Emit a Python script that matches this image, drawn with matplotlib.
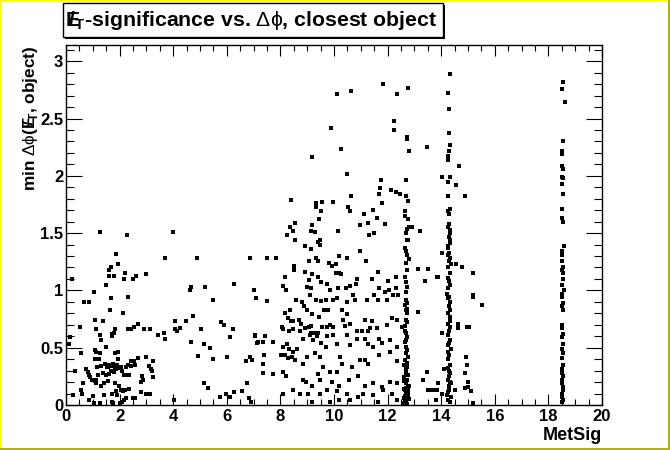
import numpy as np
import matplotlib
matplotlib.use("Agg")
import matplotlib.pyplot as plt
from matplotlib.patches import Rectangle
from matplotlib.ticker import MultipleLocator

plt.rcParams['font.family'] = ['Liberation Sans', 'DejaVu Sans']
plt.rcParams['mathtext.fontset'] = 'custom'
plt.rcParams['mathtext.rm'] = 'Liberation Sans'
plt.rcParams['mathtext.bf'] = 'Liberation Sans:bold'

# --- data: (MetSig, min dphi) ---
# low MetSig region (x < 7.2)
low_x = [1.27, 2.26, 3.98, 1.85, 3.69, 4.88, 6.85, 1.94, 1.59, 1.67, 2.20, 1.60, 1.78, 2.61, 2.99, 0.22, 2.15, 2.49,
         1.48, 6.27, 4.64, 4.66, 5.17, 1.03, 7.00, 0.67, 0.86, 1.67, 2.30, 5.47, 7.08, 1.63, 2.11, 4.73, 1.07, 1.37,
         4.06, 4.47, 5.80, 5.88, 0.51, 1.11, 1.82, 2.30, 2.41, 2.53, 2.67, 2.91, 3.12, 4.06, 4.13, 4.25, 5.02, 6.22,
         1.80, 1.73, 1.70, 1.27, 3.42, 3.64, 3.69, 0.15, 0.11, 6.12, 1.32, 7.04, 7.15, 4.65, 5.14, 5.36, 1.48, 1.07,
         1.11, 1.93, 1.83, 0.55, 1.26, 4.94, 6.00, 6.87, 6.93, 2.68, 2.97, 5.47, 6.72,
         1.07, 1.24, 1.46, 1.62, 1.77, 1.89, 1.95, 2.41, 2.54, 2.59, 2.44, 3.11, 3.26,
         1.15, 1.32, 1.52, 1.58, 1.72, 1.82, 2.04, 2.23, 2.30, 0.32,
         0.73, 0.81, 0.86, 0.91, 0.98, 1.11, 1.18,
         1.37, 1.48, 1.59, 1.67, 1.80, 1.87, 2.03, 2.10, 2.15, 2.28, 2.34, 3.16, 3.20, 3.23, 2.82,
         0.62, 1.07, 1.13, 1.31, 1.41, 1.57, 1.84, 1.99, 2.04, 2.14, 2.21, 2.35, 1.85, 0.55, 0.58, 0.99, 1.41, 1.70, 1.91,
         2.79, 2.86, 2.79, 2.97, 3.13, 2.50, 2.59, 2.24, 0.25,
         0.85, 1.06, 1.28, 1.70, 1.77, 2.01, 2.09, 2.16, 4.04,
         5.14, 5.28, 5.75, 5.96, 6.13, 6.27, 6.58, 6.75, 6.82, 6.89]
low_y = [1.51, 1.48, 1.51, 1.32, 1.28, 1.28, 1.28, 1.23, 1.18, 1.20, 1.15, 1.13, 1.13, 1.13, 1.14, 1.10, 1.10, 1.10,
         1.05, 1.06, 1.00, 1.03, 1.03, 0.99, 1.00, 0.90, 0.90, 0.93, 0.94, 0.92, 0.93, 0.83, 0.80, 0.78, 0.74, 0.73,
         0.73, 0.73, 0.72, 0.70, 0.68, 0.66, 0.66, 0.66, 0.66, 0.68, 0.71, 0.66, 0.66, 0.66, 0.65, 0.67, 0.66, 0.66,
         0.63, 0.62, 0.60, 0.61, 0.61, 0.63, 0.58, 0.59, 0.53, 0.59, 0.57, 0.60, 0.55, 0.55, 0.53, 0.50, 0.51, 0.48,
         0.46, 0.46, 0.45, 0.45, 0.45, 0.43, 0.42, 0.42, 0.39, 0.41, 0.42, 0.40, 0.38,
         0.40, 0.40, 0.36, 0.35, 0.36, 0.35, 0.40, 0.38, 0.38, 0.35, 0.34, 0.34, 0.38,
         0.33, 0.34, 0.33, 0.33, 0.34, 0.32, 0.33, 0.33, 0.35, 0.30,
         0.31, 0.29, 0.26, 0.24, 0.22, 0.22, 0.26,
         0.28, 0.26, 0.27, 0.30, 0.29, 0.31, 0.32, 0.30, 0.26, 0.26, 0.26, 0.31, 0.30, 0.24, 0.25,
         0.19, 0.21, 0.19, 0.17, 0.19, 0.21, 0.19, 0.17, 0.13, 0.12, 0.13, 0.14, 0.12, 0.13, 0.10, 0.08, 0.09, 0.10, 0.09,
         0.20, 0.22, 0.11, 0.10, 0.10, 0.06, 0.06, 0.06, 0.09,
         0.04, 0.02, 0.02, 0.03, 0.02, 0.02, 0.03, 0.04, 0.04,
         0.19, 0.15, 0.07, 0.10, 0.07, 0.11, 0.12, 0.19, 0.06, 0.03]

# middle region (7 < x < 15.5), outside the dense columns
mid_x = [11.83, 12.35, 10.11, 10.63, 12.76, 12.24, 12.24, 9.89, 12.71, 12.72, 10.25, 12.78, 13.47, 9.17, 10.47,
         11.74, 11.70, 11.68, 11.79, 12.13, 12.30, 12.45, 12.68, 12.76, 12.69, 14.03, 10.62, 8.38, 9.33, 9.32,
         9.55, 9.95, 10.51, 10.59, 9.51, 9.43, 11.12, 11.46, 11.59, 12.66, 12.66, 12.75, 8.54, 8.36, 8.48, 8.23,
         8.54, 9.17, 9.14, 9.29, 10.14, 10.96, 11.26, 11.31, 11.49, 11.89, 12.71, 12.81, 12.91, 13.20, 9.48, 12.76,
         8.92, 9.14, 9.48, 9.41, 7.49, 7.84, 9.07, 9.32, 9.41, 10.19, 10.47, 10.98, 11.21, 9.80, 9.94, 10.06,
         8.51, 8.52, 8.92, 9.17, 9.41, 10.06, 10.20, 10.25, 10.87, 10.82, 11.63, 11.42, 12.00, 12.30, 13.12, 13.52,
         13.38, 13.87, 8.16, 8.11, 8.20, 7.49,
         9.05, 8.98, 9.14, 9.51, 9.73, 9.85, 10.16, 10.43, 10.60,
         8.57, 8.79, 8.89, 9.10, 9.32, 9.50, 9.70, 9.97, 10.12,
         10.47, 10.72, 10.80, 11.22, 11.48, 11.65, 11.96, 12.21, 12.38, 11.69, 11.91, 12.06, 12.30,
         8.98, 9.18, 9.45, 9.63, 9.76, 10.30, 10.50,
         8.36, 8.30, 8.17, 8.40, 8.48, 8.68, 8.76, 8.06, 8.11, 8.33, 8.46, 8.73, 8.92, 9.05, 9.14, 9.15, 9.25, 9.41,
         9.54, 9.73, 9.85, 9.95,
         10.35, 10.42, 10.60, 10.85, 11.03, 11.16, 11.25, 11.34, 11.43, 11.59, 11.99, 12.15, 12.34, 12.53,
         7.05, 7.43, 7.36, 7.74, 7.11,
         8.11, 8.23, 8.33, 8.46, 8.61, 8.16, 8.43, 8.56,
         8.86, 9.10, 9.23, 9.35, 9.50, 9.73, 9.70, 9.97, 10.12,
         10.47, 10.60, 10.85, 11.16, 11.28, 11.47, 11.69, 11.78, 12.09, 12.34,
         7.39, 7.34, 8.01, 8.30, 8.86, 8.98, 9.29, 9.48, 9.60, 10.22, 10.29, 10.66, 10.97, 11.16, 11.25, 11.69,
         12.09, 12.34,
         7.36, 7.71, 8.11, 8.21, 8.86, 8.96, 9.17, 9.41, 9.48, 9.85, 9.91, 10.12, 10.20, 10.57, 10.91, 11.16,
         11.47, 11.78, 12.09, 12.34,
         8.11, 8.48, 8.73, 9.04, 9.17, 9.48, 9.73, 9.85, 10.10, 10.20, 10.47, 10.60, 10.91, 11.10, 11.47, 11.65,
         11.84, 12.15, 12.34,
         13.33, 13.46, 13.52, 13.71, 13.89, 14.02, 13.15,
         14.66, 14.55, 14.88, 14.02, 14.54, 14.78, 15.17, 13.83, 15.17, 15.17, 15.51, 14.63, 14.63, 14.97, 15.05,
         14.02, 14.93, 14.95, 14.88, 14.10, 14.99, 15.01, 15.10, 14.90, 13.62, 13.83, 13.80, 14.53, 15.17]
mid_y = [2.80, 2.71, 2.71, 2.74, 2.77, 2.48, 2.40, 2.42, 2.34, 2.32, 2.23, 2.22, 2.25, 2.16, 2.02,
         1.96, 1.89, 1.84, 1.76, 1.88, 1.86, 1.84, 1.82, 1.78, 1.96, 1.99, 1.82, 1.79, 1.76, 1.73,
         1.77, 1.77, 1.73, 1.69, 1.69, 1.62, 1.67, 1.70, 1.63, 1.69, 1.65, 1.62, 1.59, 1.55, 1.52, 1.48,
         1.44, 1.57, 1.52, 1.51, 1.52, 1.57, 1.59, 1.48, 1.50, 1.58, 1.54, 1.55, 1.55, 1.52, 1.44, 1.44,
         1.39, 1.36, 1.40, 1.42, 1.28, 1.28, 1.26, 1.28, 1.26, 1.30, 1.28, 1.34, 1.26, 1.24, 1.21, 1.23,
         1.21, 1.18, 1.16, 1.14, 1.12, 1.15, 1.15, 1.14, 1.10, 1.06, 1.16, 1.10, 1.08, 1.12, 1.19, 1.19,
         1.08, 1.12, 1.12, 1.04, 1.00, 0.91,
         1.09, 1.03, 1.02, 1.07, 1.06, 1.00, 1.02, 1.02, 1.04,
         0.92, 0.90, 0.86, 0.96, 0.92, 0.91, 0.92, 0.92, 0.93,
         0.90, 0.96, 0.92, 0.92, 0.96, 0.92, 0.92, 0.96, 0.96, 1.02, 0.99, 1.00, 1.02,
         0.83, 0.79, 0.77, 0.83, 0.83, 0.83, 0.79,
         0.83, 0.76, 0.80, 0.73, 0.73, 0.74, 0.71, 0.68, 0.66, 0.65, 0.66, 0.65, 0.67, 0.68, 0.69, 0.63, 0.63, 0.63,
         0.68, 0.68, 0.70, 0.68,
         0.74, 0.69, 0.71, 0.65, 0.65, 0.74, 0.65, 0.67, 0.73, 0.67, 0.70, 0.76, 0.74, 0.68,
         0.61, 0.60, 0.55, 0.55, 0.54,
         0.51, 0.53, 0.49, 0.46, 0.49, 0.44, 0.42, 0.39,
         0.58, 0.61, 0.57, 0.60, 0.54, 0.60, 0.51, 0.61, 0.53,
         0.61, 0.52, 0.58, 0.58, 0.53, 0.51, 0.58, 0.54, 0.57, 0.51,
         0.44, 0.36, 0.44, 0.41, 0.36, 0.42, 0.45, 0.42, 0.33, 0.42, 0.36, 0.33, 0.39, 0.39, 0.36, 0.44,
         0.46, 0.38,
         0.28, 0.27, 0.29, 0.25, 0.22, 0.20, 0.17, 0.27, 0.22, 0.29, 0.20, 0.29, 0.17, 0.22, 0.25, 0.17,
         0.19, 0.16, 0.20, 0.19,
         0.10, 0.13, 0.10, 0.10, 0.03, 0.10, 0.13, 0.03, 0.12, 0.04, 0.10, 0.04, 0.07, 0.10, 0.09, 0.03,
         0.13, 0.10, 0.04,
         0.22, 0.29, 0.13, 0.13, 0.19, 0.10, 0.81,
         2.09, 1.92, 1.82, 1.33, 1.23, 1.20, 1.15, 1.12, 0.96, 0.94, 0.87, 0.71, 0.67, 0.68, 0.68,
         0.63, 0.42, 0.35, 0.28, 0.31, 0.20, 0.16, 0.12, 0.15, 0.13, 0.13, 0.04, 0.13, 0.02]

# column near MetSig ~ 12.7
col127_x = [12.68, 12.72, 12.66, 12.70, 12.74, 12.67, 12.71, 12.65, 12.73, 12.69, 12.70, 12.66, 12.72, 12.68,
            12.74, 12.67, 12.71, 12.64, 12.70, 12.73, 12.66, 12.69, 12.72, 12.68, 12.65, 12.71, 12.74, 12.67,
            12.70, 12.63, 12.72, 12.68, 12.75, 12.66, 12.70, 12.73, 12.64, 12.69,
            12.76, 12.62, 12.78, 12.61, 12.74, 12.66, 12.79, 12.60, 12.72, 12.77, 12.63, 12.75, 12.68, 12.62,
            12.76, 12.70, 12.64, 12.73, 12.67, 12.78]
col127_y = [1.50, 1.44, 1.37, 1.34, 1.31, 1.24, 1.18, 1.12, 1.03, 0.99, 0.92, 0.87, 0.84, 0.83, 0.80, 0.74,
            0.72, 0.65, 0.63, 0.59, 0.55, 0.51, 0.48, 0.45, 0.39, 0.37, 0.33, 0.31, 0.28, 0.24, 0.22, 0.19,
            0.16, 0.13, 0.10, 0.07, 0.04, 0.03,
            0.26, 0.21, 0.17, 0.14, 0.11, 0.08, 0.05, 0.02, 0.01, 0.12, 0.06, 0.09, 0.15, 0.35, 0.42, 0.57,
            0.69, 0.89, 1.07, 1.27]

# column near MetSig ~ 14.3
col143_x = [14.34, 14.27, 14.28, 14.29, 14.33, 14.30, 14.26, 14.25, 14.31, 14.24, 14.27, 14.32, 14.26, 14.28,
            14.30, 14.27, 14.34, 14.31, 14.29, 14.33, 14.27, 14.24, 14.30, 14.26, 14.32, 14.28, 14.35, 14.25,
            14.31, 14.27, 14.29, 14.33, 14.26, 14.30, 14.24, 14.32, 14.28, 14.34, 14.27, 14.31, 14.25, 14.33,
            14.29, 14.26, 14.32, 14.28, 14.35, 14.24, 14.30, 14.27, 14.33, 14.26, 14.31, 14.29, 14.25, 14.34,
            14.28, 14.30, 14.23, 14.36, 14.27, 14.32, 14.24, 14.35, 14.29, 14.26, 14.33, 14.22, 14.31]
col143_y = [2.89, 2.72, 2.58, 2.37, 2.27, 2.22, 2.17, 2.14, 1.99, 1.95, 1.82, 1.71, 1.69, 1.67, 1.58, 1.55,
            1.53, 1.50, 1.47, 1.44, 1.39, 1.37, 1.33, 1.31, 1.28, 1.26, 1.23, 1.20, 1.15, 1.11, 1.08, 1.05,
            1.02, 0.94, 0.93, 0.90, 0.86, 0.83, 0.80, 0.73, 0.71, 0.68, 0.65, 0.61, 0.57, 0.54, 0.49, 0.46,
            0.44, 0.40, 0.35, 0.32, 0.28, 0.25, 0.22, 0.20, 0.17, 0.13, 0.09, 0.07, 0.04, 0.03,
            0.11, 0.19, 0.30, 0.52, 0.77, 0.97, 1.41]

# column near MetSig ~ 18.5
col185_x = [18.53, 18.50, 18.62, 18.55, 18.51, 18.52, 18.50, 18.53, 18.49, 18.54, 18.51, 18.53, 18.52, 18.50,
            18.55, 18.57, 18.52, 18.49, 18.51, 18.54, 18.50, 18.53, 18.56, 18.52, 18.60, 18.51, 18.49, 18.53,
            18.50, 18.55, 18.52, 18.49, 18.54, 18.51, 18.56, 18.50, 18.53, 18.49, 18.55, 18.52, 18.50, 18.54,
            18.51, 18.49, 18.53, 18.56, 18.50, 18.52, 18.55, 18.51]
col185_y = [2.82, 2.76, 2.64, 2.30, 2.22, 2.19, 2.09, 2.06, 1.99, 1.98, 1.93, 1.84, 1.71, 1.63, 1.60, 1.39,
            1.34, 1.31, 1.26, 1.20, 1.18, 1.15, 1.10, 1.05, 1.00, 0.97, 0.94, 0.89, 0.86, 0.83, 0.70, 0.67,
            0.62, 0.59, 0.53, 0.49, 0.45, 0.41, 0.35, 0.31, 0.28, 0.25, 0.22, 0.19, 0.16, 0.13, 0.10, 0.07,
            0.04, 0.03]

x_all = low_x + mid_x + col127_x + col143_x + col185_x
y_all = low_y + mid_y + col127_y + col143_y + col185_y

W, H = 670, 450
fig = plt.figure(figsize=(W / 100, H / 100), dpi=100)
fig.patch.set_facecolor('white')

ax = fig.add_axes([66 / W, 1 - 405 / H, (602 - 66) / W, (405 - 45) / H])
ax.plot(x_all, y_all, 's', color='black', ms=2.6, mew=0)
ax.set_xlim(0, 20)
ax.set_ylim(0, np.pi)

ax.xaxis.set_major_locator(MultipleLocator(2))
ax.xaxis.set_minor_locator(MultipleLocator(0.5))
ax.yaxis.set_major_locator(MultipleLocator(0.5))
ax.yaxis.set_minor_locator(MultipleLocator(0.1))
ax.tick_params(which='both', direction='in', top=True, right=True, width=0.8, colors='black')
ax.xaxis.set_tick_params(which='major', length=7.9, pad=3)
ax.xaxis.set_tick_params(which='minor', length=4)
ax.yaxis.set_tick_params(which='major', length=11.5, pad=2)
ax.yaxis.set_tick_params(which='minor', length=5.8)
ax.yaxis.set_major_formatter(plt.FuncFormatter(lambda v, p: f'{v:g}'))
for lab in ax.get_xticklabels() + ax.get_yticklabels():
    lab.set_fontweight('bold')
    lab.set_fontsize(12)
for sp in ax.spines.values():
    sp.set_linewidth(1.0)

ax.set_xlabel('MetSig', fontsize=13, fontweight='bold', loc='right', labelpad=2)
ax.set_ylabel(r'min $\mathrm{\Delta\phi}$($\mathbf{E\!\!\!/}_{\mathbf{T}}$, object)', fontsize=12.4,
              fontweight='bold', loc='top', labelpad=0)

# title box with shadow
shadow = Rectangle((65 / W, 1 - 39 / H), (443 - 63) / W, (37 - 3) / H, transform=fig.transFigure,
                   facecolor='black', edgecolor='black', lw=0)
box = Rectangle((63 / W, 1 - 37 / H), (443 - 63) / W, (37 - 3) / H, transform=fig.transFigure,
                facecolor='white', edgecolor='black', lw=1.0)
fig.patches.extend([shadow, box])
fig.text(251 / W, 1 - 20 / H, r'$\mathbf{E\!\!\!/}_{\mathbf{T}}$-significance vs. $\mathrm{\Delta\phi}$, closest object',
         ha='center', va='center', fontsize=15.3, fontweight='bold')

# canvas border
fig.patches.extend([
    Rectangle((0, 0), 2 / W, 1, transform=fig.transFigure, facecolor='#ffff00', lw=0),
    Rectangle((0, 1 - 2 / H), 1, 2 / H, transform=fig.transFigure, facecolor='#ffff00', lw=0),
    Rectangle((1 - 2 / W, 0), 2 / W, 1, transform=fig.transFigure, facecolor='#b4b400', lw=0),
    Rectangle((0, 0), 1, 2 / H, transform=fig.transFigure, facecolor='#b4b400', lw=0),
])

fig.savefig('out.png', dpi=100)
